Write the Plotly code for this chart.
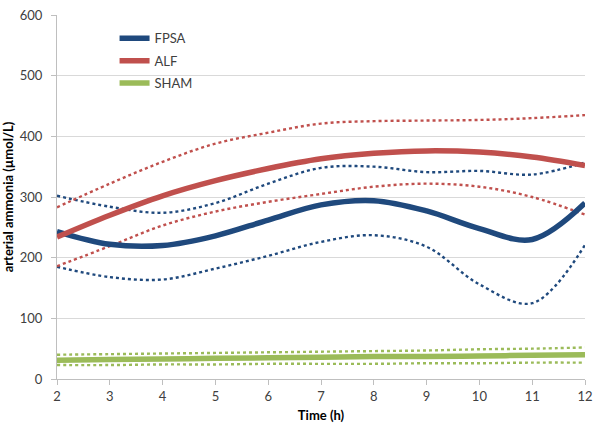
import plotly.graph_objects as go

hours = [2, 3, 4, 5, 6, 7, 8, 9, 10, 11, 12]

fpsa_mean = [243, 222, 220, 236, 262, 287, 294, 277, 248, 230, 290]
fpsa_upper = [302, 284, 274, 290, 322, 348, 350, 341, 343, 337, 357]
fpsa_lower = [185, 168, 164, 182, 203, 226, 237, 218, 156, 125, 221]

alf_mean = [234, 270, 302, 327, 347, 363, 372, 376, 374, 366, 352]
alf_upper = [283, 322, 358, 388, 406, 421, 425, 426, 427, 430, 435]
alf_lower = [186, 219, 253, 276, 292, 305, 317, 322, 317, 300, 271]

sham_mean = [31, 32, 33, 34, 35, 36, 37, 37, 38, 39, 40]
sham_upper = [40, 41, 42, 43, 44, 45, 46, 47, 49, 50, 52]
sham_lower = [23, 23, 24, 24, 25, 25, 25, 26, 26, 27, 27]

y_ticks = [0, 100, 200, 300, 400, 500, 600]

BLUE = "#1F497D"
RED = "#C0504D"
GREEN = "#9BBB59"

fig = go.Figure()

series = [
    ("FPSA", fpsa_mean, fpsa_upper, fpsa_lower, BLUE),
    ("ALF", alf_mean, alf_upper, alf_lower, RED),
    ("SHAM", sham_mean, sham_upper, sham_lower, GREEN),
]

for name, m, u, l, c in series:
    for band in (u, l):
        fig.add_trace(go.Scatter(
            x=hours, y=band, mode="lines", showlegend=False, hoverinfo="skip",
            line=dict(color=c, width=2.4, dash="dot", shape="spline", smoothing=1.0),
        ))

for name, m, u, l, c in series:
    fig.add_trace(go.Scatter(
        x=hours, y=m, mode="lines", name=name, legendgroup=name,
        line=dict(color=c, width=5.5, shape="spline", smoothing=1.0),
    ))

fig.update_layout(
    width=600, height=428,
    margin=dict(l=54, r=13, t=7, b=49),
    paper_bgcolor="white", plot_bgcolor="white",
    font=dict(family="Lato, Open Sans, sans-serif", size=13, color="#404040"),
    legend=dict(
        x=0.109, y=0.977, xanchor="left", yanchor="top",
        bgcolor="rgba(0,0,0,0)", font=dict(size=13, color="#404040"),
        itemwidth=30, tracegroupgap=2.5,
    ),
    xaxis=dict(
        range=[2, 12], tickvals=hours, ticks="outside", ticklen=5, tickcolor="#BFBFBF",
        showgrid=False, showline=True, linecolor="#BFBFBF", linewidth=1, zeroline=False,
        tickfont=dict(size=13, color="#404040"), ticklabeloverflow="allow",
        title=dict(text="<b>Time (h)</b>", font=dict(size=13, color="#000000"), standoff=8),
    ),
    yaxis=dict(
        range=[0, 600], tickvals=y_ticks, ticks="outside", ticklen=5, tickcolor="#BFBFBF",
        showgrid=True, gridcolor="#D9D9D9", gridwidth=1,
        showline=True, linecolor="#BFBFBF", linewidth=1, zeroline=False,
        tickfont=dict(size=13, color="#404040"), ticklabeloverflow="allow",
        ticklabelstandoff=6,
        title=dict(text="<b>arterial ammonia (µmol/L)</b>", font=dict(size=13, color="#000000"), standoff=4),
    ),
)

fig.write_html("out.html", config={"displayModeBar": False},
               post_script="document.body.style.margin='0';")
